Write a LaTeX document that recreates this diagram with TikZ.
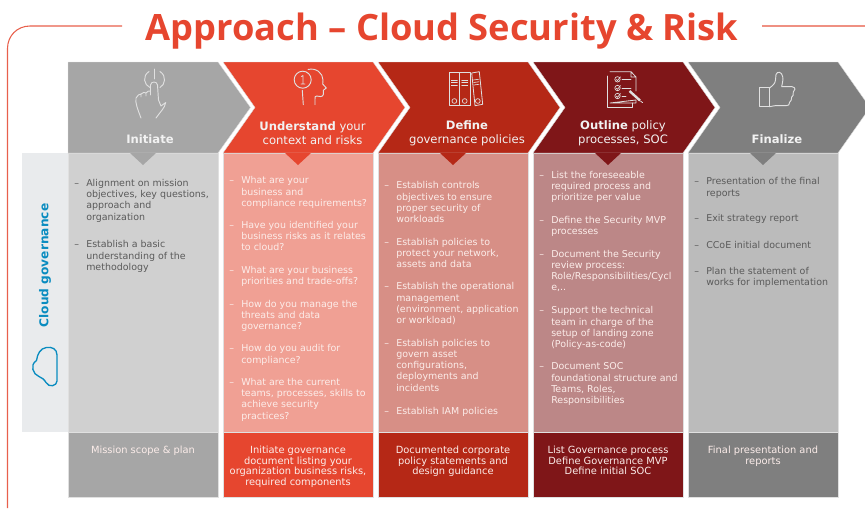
\documentclass[tikz,border=0pt]{standalone}
\usepackage{fontspec}
\setmainfont{DejaVu Sans}
\newfontfamily\titlefont{Open Sans}
\definecolor{cA}{HTML}{A6A6A6}\definecolor{cB}{HTML}{E6462F}\definecolor{cC}{HTML}{B52816}\definecolor{cD}{HTML}{7F1618}\definecolor{cE}{HTML}{7F7F7F}
\definecolor{lA}{HTML}{D0D0D0}\definecolor{lB}{HTML}{F0A094}\definecolor{lC}{HTML}{D78F86}\definecolor{lD}{HTML}{BC8787}\definecolor{lE}{HTML}{BBBBBB}
\definecolor{panel}{HTML}{E9EBED}\definecolor{blueg}{HTML}{0A8CC0}\definecolor{frameR}{HTML}{E8604C}\definecolor{darktx}{HTML}{5A5A5A}\definecolor{lighttx}{HTML}{FCEDEA}
\tikzset{
 x=0.75pt,y=-0.75pt,
 bodytext/.style={font=\fontsize{7.1}{8.45}\selectfont,inner sep=0pt,align=left,anchor=north west},
 dashmark/.style={font=\fontsize{7.1}{8.45}\selectfont,inner sep=0pt,anchor=north west},
 foottext/.style={font=\fontsize{7.4}{8.1}\selectfont,inner sep=0pt,align=center,anchor=north,text=lighttx},
 headtext/.style={font=\fontsize{8.7}{10.5}\selectfont,inner sep=0pt,align=center,text=white!95!black},
 icon/.style={draw=white!88!black,line width=0.7pt,line join=round,line cap=round},
 rim/.style={draw=black!12,line width=0.3pt},
}
\newcommand{\bul}[4]{% name, text x, line centre y, text
 \node[dashmark] (#1d) at (#2-12,#3-4.4) {\strut–};
 \node[bodytext] (#1) at (#2,#3-4.4) {\strut #4};}
\newcommand{\colm}[3]{% x, strong colour, light colour
 \filldraw[fill=#3,rim] (#1,153) rectangle ++(150,279);
 \filldraw[fill=#2,rim] (#1,432) rectangle ++(150,65);}
\newcommand{\tri}[2]{\fill[#2] (#1+62,153) -- (#1+88,153) -- (#1+75,165) -- cycle;}
\begin{document}
\begin{tikzpicture}
\useasboundingbox (0,0) rectangle (865,508);
% frame
\draw[frameR,line width=0.8pt] (122,26) -- (30,26) .. controls (17,26) and (7.5,36) .. (7.5,48.5) -- (7.5,508);
\draw[frameR!70,line width=0.8pt] (762,26) -- (865,26);
% title
\node[font=\titlefont\bfseries\fontsize{27.2}{30}\selectfont,text=cB,inner sep=0pt] (title) at (442,31) {Approach – Cloud Security \& Risk};
% left panel
\fill[panel] (22,153) rectangle (68,432);
% columns
\colm{68}{cA}{lA}\colm{223}{cB}{lB}\colm{378}{cC}{lC}\colm{533}{cD}{lD}\colm{688}{cE}{lE}
% chevrons
\filldraw[fill=cA,rim] (68,62) -- (218,62) -- (250.5,107.5) -- (218,153) -- (68,153) -- cycle;
\foreach \xx/\cc in {223/cB,378/cC,533/cD,688/cE}{
 \filldraw[fill=\cc,rim] (\xx,62) -- (\xx+150,62) -- (\xx+182,107.5) -- (\xx+150,153) -- (\xx,153) -- (\xx+32,107.5) -- cycle;
}
\tri{68}{cA}\tri{223}{cB}\tri{378}{cC}\tri{533}{cD}\tri{688}{cE}
% headings
\node[headtext] (h1) at (150,139.5) {\textbf{Initiate}};
\node[headtext] (h2) at (312.5,133) {\textbf{Understand} your\\context and risks};
\node[headtext] (h3) at (467,133) {\textbf{Define}\\governance policies};
\node[headtext] (h4) at (623,133) {\textbf{Outline} policy\\processes, SOC};
\node[headtext] (h5) at (777,139.5) {\textbf{Finalize}};
% side label
\node[rotate=90,font=\bfseries\fontsize{9.15}{10}\selectfont,text=blueg,inner sep=0pt] (side) at (45,265.5) {Cloud governance};
\draw[blueg,line width=1pt,line join=round] (46.3,347.5) .. controls (52,346.5) and (57,349) .. (57,355) -- (57,381) .. controls (57,386) and (49,388) .. (46,382.5) .. controls (44,379) and (42,378) .. (39,376.5) .. controls (33,374.5) and (29.5,365) .. (36.5,360.5) .. controls (37.5,354) and (40,348.5) .. (46.3,347.5) -- cycle;
% column 1
\begin{scope}[text=darktx]
\bul{aa}{86}{182.7}{Alignment on mission\\objectives, key questions,\\approach and\\organization}
\bul{ab}{86}{244}{Establish a basic\\understanding of the\\methodology}
\end{scope}
% column 2
\begin{scope}[text=lighttx]
\bul{ba}{241}{180}{What are your\\business and\\compliance requirements?}
\bul{bb}{241}{224.7}{Have you identified your\\business risks as it relates\\to cloud?}
\bul{bc}{241}{269.7}{What are your business\\priorities and trade-offs?}
\bul{bd}{241}{303.3}{How do you manage the\\threats and data\\governance?}
\bul{be}{241}{348}{How do you audit for\\compliance?}
\bul{bf}{241}{381.7}{What are the current\\teams, processes, skills to\\achieve security\\practices?}
% column 3
\bul{ca}{396}{185}{Establish controls\\objectives to ensure\\proper security of\\workloads}
\bul{cb}{396}{241.3}{Establish policies to\\protect your network,\\assets and data}
\bul{cc}{396}{286}{Establish the operational\\management\\(environment, application\\or workload)}
\bul{cd}{396}{342.3}{Establish policies to\\govern asset\\configurations,\\deployments and\\incidents}
\bul{ce}{396}{410.3}{Establish IAM policies}
% column 4
\bul{da}{551}{174.5}{List the foreseeable\\required process and\\prioritize per value}
\bul{db}{551}{219.7}{Define the Security MVP\\processes}
\bul{dc}{551}{253.3}{Document the Security\\review process:\\Role/Responsibilities/Cycl\\e,..}
\bul{dd}{551}{310}{Support the technical\\team in charge of the\\setup of landing zone\\(Policy-as-code)}
\bul{de}{551}{366}{Document SOC\\foundational structure and\\Teams, Roles,\\Responsibilities}
\end{scope}
% column 5
\begin{scope}[text=darktx]
\bul{ea}{706}{181}{Presentation of the final\\reports}
\bul{eb}{706}{218}{Exit strategy report}
\bul{ec}{706}{244.3}{CCoE initial document}
\bul{ed}{706}{270.7}{Plan the statement of\\works for implementation}
\end{scope}
% footers
\node[foottext] (fa) at (143,445.5) {\strut Mission scope \& plan};
\node[foottext] (fb) at (298,445.5) {\strut Initiate governance\\document listing your\\organization business risks,\\required components};
\node[foottext] (fc) at (453,445.5) {\strut Documented corporate\\policy statements and\\design guidance};
\node[foottext] (fd) at (608,445.5) {\strut List Governance process\\Define Governance MVP\\Define initial SOC};
\node[foottext] (fe) at (763,445.5) {\strut Final presentation and\\reports};
% icon: power and hand
\draw[icon] (154.5,69) -- (154.5,79);
\draw[icon] (149,71.5) .. controls (142,76) and (144,85) .. (150,87.5);
\draw[icon] (160,71.5) .. controls (167,76) and (165,85) .. (160,87.5);
\draw[icon] (141,118) .. controls (138,110) and (135,103) .. (136,98) .. controls (137,95) and (140,94) .. (141,94) -- (141,97) (141,94) .. controls (143,92) and (145,92) .. (146,93) -- (146,96) (146,93) .. controls (147,91) and (149,91) .. (150.5,91) -- (150.5,95) (150.5,91) -- (150.5,85) .. controls (151,81) and (157,81) .. (157.5,85) -- (158.5,100) -- (161,106) -- (165.7,102.5) .. controls (165,108) and (160,112) .. (156,118);
% icon: head
\draw[icon] (302.7,79.7) circle[radius=8.5];
\draw[icon,line width=0.6pt] (301.5,76.5) -- (303,75.5) -- (303,84) (301,84) -- (305,84);
\draw[icon] (308,69.5) .. controls (316,67.5) and (323,73) .. (323,80) -- (322.7,84) -- (326.3,88) -- (323.3,90.3) -- (323.3,94.5) .. controls (323,97) and (319,97) .. (316.5,96) .. controls (315,96) and (315,97) .. (315,99) -- (315,104.7);
\draw[icon] (302.3,90.3) -- (303.3,104.7);
% icon: binders
\draw[icon,line width=0.6pt] (449.3,72.3) rectangle (459.5,105.7) (459.5,72.3) rectangle (470,105.7);
\draw[icon,line width=0.6pt] (471.7,73) -- (479.3,71.7) -- (482.7,104.3) -- (475,105.7) -- cycle;
\foreach \bx in {454.4,464.7}{
 \draw[icon,line width=0.5pt] (\bx,101) circle[radius=2.4];
 \draw[icon,line width=0.5pt] (\bx-3,80) -- (\bx+3,80) (\bx-3,82.5) -- (\bx+3,82.5) (\bx-3,85) -- (\bx+3,85);
}
\draw[icon,line width=0.5pt] (477.8,101) circle[radius=2.4];
\draw[icon,line width=0.5pt] (473.5,80) -- (478.5,79.3) (473.8,82.5) -- (478.8,81.8) (474,85) -- (479,84.3);
% icon: checklist
\draw[icon,line width=0.6pt] (607,76) -- (607,107) -- (632.7,107) -- (632.7,103);
\draw[icon,line width=0.6pt] (610,71.7) -- (631,71.7) -- (636,77) -- (636,91) (636,100) -- (636,103) -- (610,103) -- cycle (631,71.7) -- (631,77) -- (636,77);
\foreach \cy in {79.3,88,96}{
 \draw[icon,line width=0.5pt] (617.5,\cy) circle[radius=2.7];
 \draw[icon,line width=0.5pt] (616,\cy) -- (617.5,\cy+1.3) -- (620.5,\cy-2.5);
}
\draw[icon,line width=0.5pt] (622,79.7) -- (631,79.7) (622,88) -- (631,88) (622,96) -- (626,96);
\draw[icon,line width=1.8pt,line cap=butt] (629.5,91) -- (640,100.5);
\draw[icon,line width=0.6pt] (640.5,101) -- (642.5,102.5);
% icon: thumb
\draw[icon] (759,87.7) rectangle (769.3,106.7);
\draw[icon] (769.3,88.3) .. controls (773,85) and (775,84) .. (775.5,80) -- (776,74.5) .. controls (777,71) and (782,71.5) .. (782.7,76.7) .. controls (783.5,80) and (782,84) .. (781.7,86.7) -- (792,86.7) .. controls (796,87) and (795.5,91) .. (793.3,92) .. controls (794,95) and (792.5,96.5) .. (791.7,97) .. controls (792,100) and (790.5,101.5) .. (789.7,102) .. controls (790,105) and (788,105.7) .. (786,105.7) -- (775,105.7) .. controls (772,105.7) and (772,106.7) .. (769.3,106.7);
\end{tikzpicture}
\end{document}
